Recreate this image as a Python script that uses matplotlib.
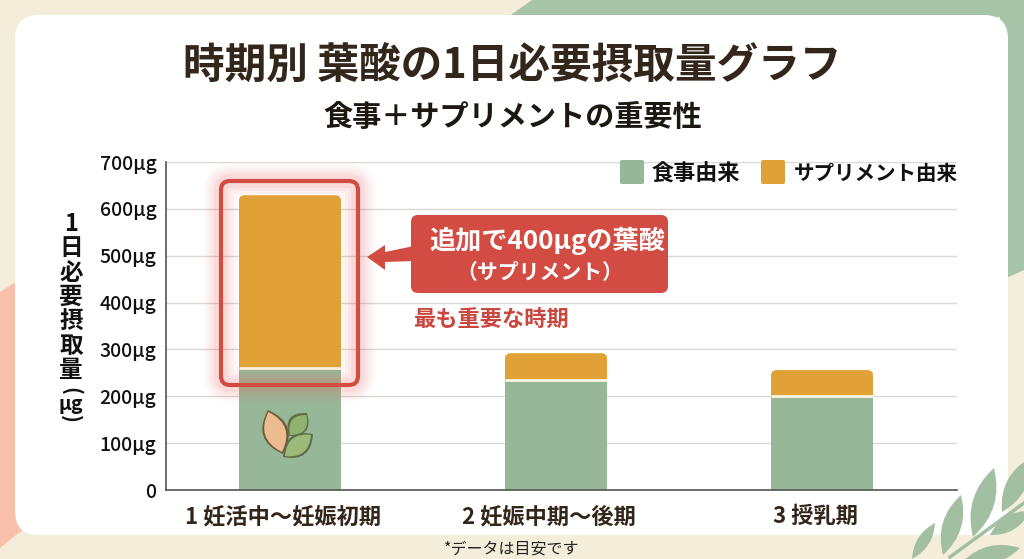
import matplotlib
matplotlib.use("Agg")
import matplotlib.pyplot as plt
from matplotlib.patches import FancyBboxPatch, Polygon, PathPatch
from matplotlib.path import Path
from matplotlib.transforms import IdentityTransform, ScaledTranslation

plt.rcParams['font.family'] = ['Noto Sans CJK JP', 'DejaVu Sans']

# data
stages = ['1 妊活中〜妊娠初期', '2 妊娠中期〜後期', '3 授乳期']
food = [260, 235, 200]
supplement = [369, 57, 56]
yticks = [0, 100, 200, 300, 400, 500, 600, 700]
ytick_labels = ['0', '100μg', '200μg', '300μg', '400μg', '500μg', '600μg', '700μg']
ylabel_chars = ['1', '日', '必', '要', '摂', '取', '量']

GREEN = '#97B898'
ORANGE = '#E0A237'
RED = '#D24C44'
BROWN = '#33261A'
W, H = 1024, 559

fig = plt.figure(figsize=(W / 100, H / 100), dpi=100, facecolor='#F3EDDA')


def px_axes(z):
    # overlay axes in pixel coords, y pointing down
    a = fig.add_axes([0, 0, 1, 1], zorder=z)
    a.set_xlim(0, W)
    a.set_ylim(H, 0)
    a.axis('off')
    a.patch.set_alpha(0)
    return a


def leaf(a, x0, y0, x1, y1, bulge, color, alpha=1.0, z=3):
    # pointed leaf between two tips
    dx, dy = x1 - x0, y1 - y0
    nx, ny = -dy * bulge, dx * bulge
    mx, my = (x0 + x1) / 2, (y0 + y1) / 2
    verts = [(x0, y0), (mx + nx, my + ny), (x1, y1), (mx - nx, my - ny), (x0, y0)]
    codes = [Path.MOVETO, Path.CURVE3, Path.CURVE3, Path.CURVE3, Path.CURVE3]
    a.add_patch(PathPatch(Path(verts, codes), fc=color, ec='none', alpha=alpha, zorder=z))


bg = px_axes(0)
bg.add_patch(Polygon([(508, 17), (532, 0), (1024, 0), (1024, 270), (1000, 281), (1000, 17)],
                     fc='#A8C4A8', ec='none', zorder=1))
bg.add_patch(Polygon([(0, 292), (16, 282), (30, 282), (30, 525), (16, 535), (0, 548)],
                     fc='#F8BFAB', ec='none', zorder=1))
bg.add_patch(FancyBboxPatch((15 + 24, 15 + 24), 993 - 48, 520 - 48,
                            boxstyle='round,pad=24,rounding_size=24', fc='white', ec='none', zorder=2))

# chart
ax = fig.add_axes([166 / W, 1 - 490 / H, (957 - 166) / W, (490 - 162) / H], zorder=1)
ax.patch.set_alpha(0)
ax.set_xlim(-0.466, 2.507)
ax.set_ylim(0, 700)
x = range(len(stages))
ax.bar(x, food, width=0.385, color=GREEN, zorder=2)
tops = ax.bar(x, supplement, bottom=food, width=0.385, color=ORANGE, zorder=2)
ax.hlines(food, [i - 0.1925 for i in x], [i + 0.1925 for i in x], color='#FBF6DF', lw=2, zorder=3)

ax.yaxis.grid(True, color='#D9D9D6', lw=1)
ax.set_axisbelow(True)
ax.set_yticks(yticks)
ax.set_yticklabels(ytick_labels, fontsize=14, fontweight='medium', color='#111111')
ax.set_xticks(list(x))
ax.set_xticklabels(stages, fontsize=16, fontweight='bold', color=BROWN)
ax.tick_params(axis='both', length=0)
ax.tick_params(axis='y', pad=7)
ax.tick_params(axis='x', pad=11)
# labels sit a little left of the bar centres in the original
shift = ScaledTranslation(-7 / 100, 0, fig.dpi_scale_trans)
for t in ax.get_xticklabels():
    t.set_transform(t.get_transform() + shift)
for s in ['top', 'right']:
    ax.spines[s].set_visible(False)
for s in ['left', 'bottom']:
    ax.spines[s].set_color('#555555')
    ax.spines[s].set_linewidth(1.2)

# round the top corners of the upper bars
fig.canvas.draw()
for b in tops:
    e = b.get_window_extent()
    clip = FancyBboxPatch((e.x0, e.y0 - 10), e.width, e.height + 10,
                          boxstyle='round,pad=0,rounding_size=6', transform=IdentityTransform())
    b.set_clip_path(clip)

ov = px_axes(2)

# titles
ov.text(512, 67, '時期別 葉酸の1日必要摂取量グラフ', fontsize=30, fontweight='bold', color=BROWN,
        ha='center', va='center')
ov.text(513, 117, '食事＋サプリメントの重要性', fontsize=21, fontweight='bold', color='#1C1710',
        ha='center', va='center')

# y label stacked vertically
for i, c in enumerate(ylabel_chars):
    ov.text(71, 224 + i * 24.4, c, fontsize=17, fontweight='bold', color='#111111', ha='center', va='center')
ov.text(71, 391, '(', fontsize=15, fontweight='bold', rotation=-90, color='#111111', ha='center', va='center')
ov.text(71, 405, 'μg', fontsize=14, fontweight='bold', color='#111111', ha='center', va='center')
ov.text(71, 419, ')', fontsize=15, fontweight='bold', rotation=-90, color='#111111', ha='center', va='center')

# legend
ov.add_patch(FancyBboxPatch((620, 160), 24, 24, boxstyle='round,pad=0,rounding_size=2', fc=GREEN, ec='none'))
ov.add_patch(FancyBboxPatch((761, 160), 24, 24, boxstyle='round,pad=0,rounding_size=2', fc=ORANGE, ec='none'))
ov.text(652, 174, '食事由来', fontsize=15.9, fontweight='bold', color='#111111', ha='left', va='center')
ov.text(794, 174, 'サプリメント由来', fontsize=14.8, fontweight='bold', color='#111111', ha='left', va='center')

# highlight box with glow
for lw, al in [(26, 0.025), (22, 0.035), (18, 0.045), (14, 0.06), (10, 0.08)]:
    ov.add_patch(FancyBboxPatch((221, 181), 137, 204, boxstyle='round,pad=0,rounding_size=9',
                                fc='none', ec='#F55A55', lw=lw, alpha=al))
ov.add_patch(FancyBboxPatch((221, 181), 137, 204, boxstyle='round,pad=0,rounding_size=9',
                            fc='none', ec=RED, lw=3))

# callout
ov.add_patch(FancyBboxPatch((411, 215), 257, 78, boxstyle='round,pad=0,rounding_size=7', fc=RED, ec='none'))
ov.add_patch(Polygon([(367, 257), (385, 245), (385, 252), (414, 246), (414, 261), (385, 262), (385, 270)],
                     fc=RED, ec='none'))
ov.text(547, 241, '追加で400μgの葉酸', fontsize=18.8, fontweight='bold', color='white', ha='center', va='center')
ov.text(540, 272, '（サプリメント）', fontsize=15, fontweight='bold', color='white', ha='center', va='center')
ov.text(413, 319, '最も重要な時期', fontsize=16, fontweight='bold', color='#C9473F', ha='left', va='center')

# leaf icon on first bar
leaf(ov, 268, 410, 283, 454, 0.55, '#6E5A3C', z=4)
leaf(ov, 268.5, 412, 282, 452, 0.5, '#EDBB90', z=4)
leaf(ov, 307, 413, 289, 436, 0.7, '#5F6E48', z=3)
leaf(ov, 306.5, 415, 290, 435, 0.62, '#8FB36F', z=3)
leaf(ov, 313, 434, 283, 457, 0.58, '#5F6E48', z=5)
leaf(ov, 311, 435, 285, 456, 0.52, '#9CBB78', z=5)

# footnote
ov.text(512, 549, '*データは目安です', fontsize=11.5, color='#222222', ha='center', va='center')

# corner foliage
FOL = '#A3BFA2'
ov.plot([950, 1024], [557, 503], color=FOL, lw=2.5, zorder=3)
leaf(ov, 912, 559, 935, 523, 0.28, FOL)
leaf(ov, 943, 555, 961, 495, 0.3, FOL)
leaf(ov, 973, 537, 994, 468, 0.3, FOL)
leaf(ov, 1002, 512, 1030, 458, 0.32, FOL)
leaf(ov, 990, 535, 1030, 511, 0.32, FOL)
leaf(ov, 962, 562, 1020, 548, 0.3, FOL)

fig.savefig('out.png', dpi=100, facecolor=fig.get_facecolor())
